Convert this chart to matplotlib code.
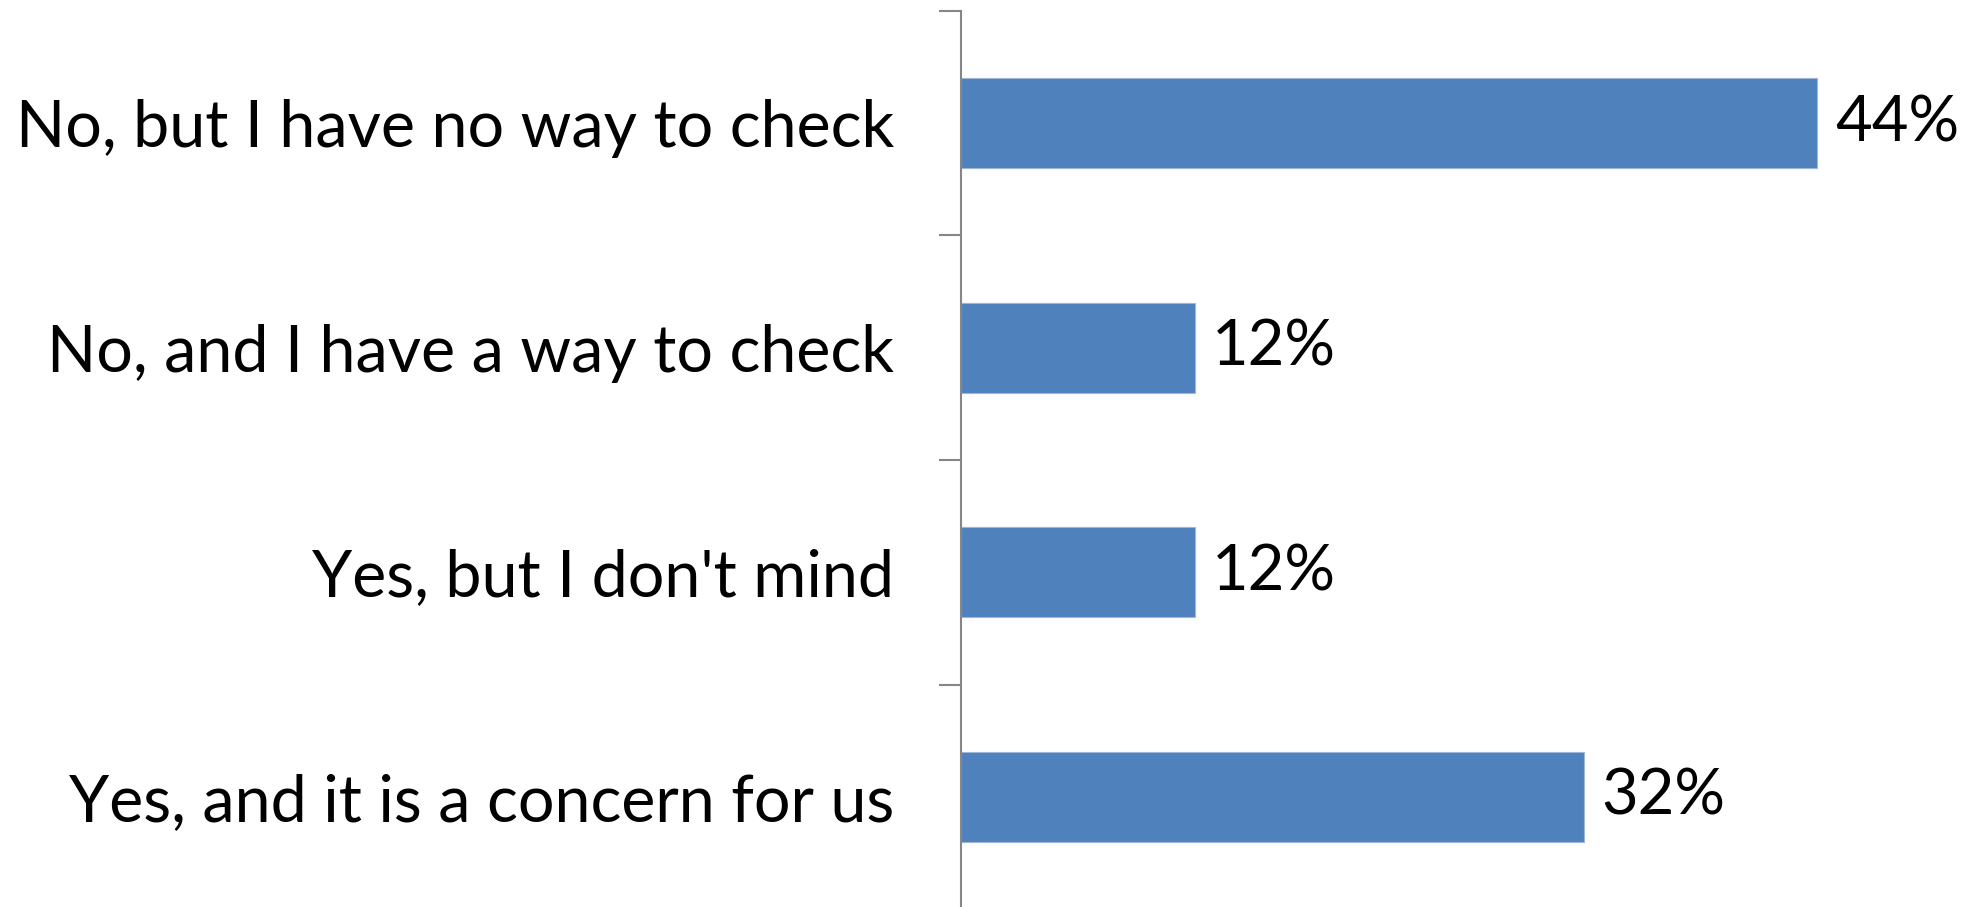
import matplotlib.pyplot as plt

categories = ["Yes, and it is a concern for us", "Yes, but I don't mind",
              "No, and I have a way to check", "No, but I have no way to check"]
values = [32, 12, 12, 44]
labels = ["32%", "12%", "12%", "44%"]

plt.rcParams['font.family'] = ['Lato', 'DejaVu Sans']

fig = plt.figure(figsize=(19.81, 9.07), dpi=100)
ax = fig.add_axes([961 / 1981, -2 / 907, 1 - 961 / 1981, 898 / 907])

pos = list(range(len(categories)))
ax.barh(pos, values, height=0.4, color="#4F81BD", edgecolor="#9DB6D9", linewidth=0.8)
for p, v, t in zip(pos, values, labels):
    ax.text(v + 0.9, p, t, va="center", ha="left", fontsize=45.5, color="black")

ax.set_xlim(0, 52.4)
ax.set_ylim(-0.5, 3.5)
ax.set_yticks(pos)
ax.set_yticklabels(categories, fontsize=46.5)
ax.set_yticks([-0.5, 0.5, 1.5, 2.5, 3.5], minor=True)
ax.tick_params(axis="y", which="major", length=0, pad=48)
ax.tick_params(axis="y", which="minor", length=16, width=1.5, color="#868686")
ax.set_xticks([])
for s in ["top", "right", "bottom"]:
    ax.spines[s].set_visible(False)
ax.spines["left"].set_color("#868686")
ax.spines["left"].set_linewidth(1.5)

fig.savefig("out.png", dpi=100)
